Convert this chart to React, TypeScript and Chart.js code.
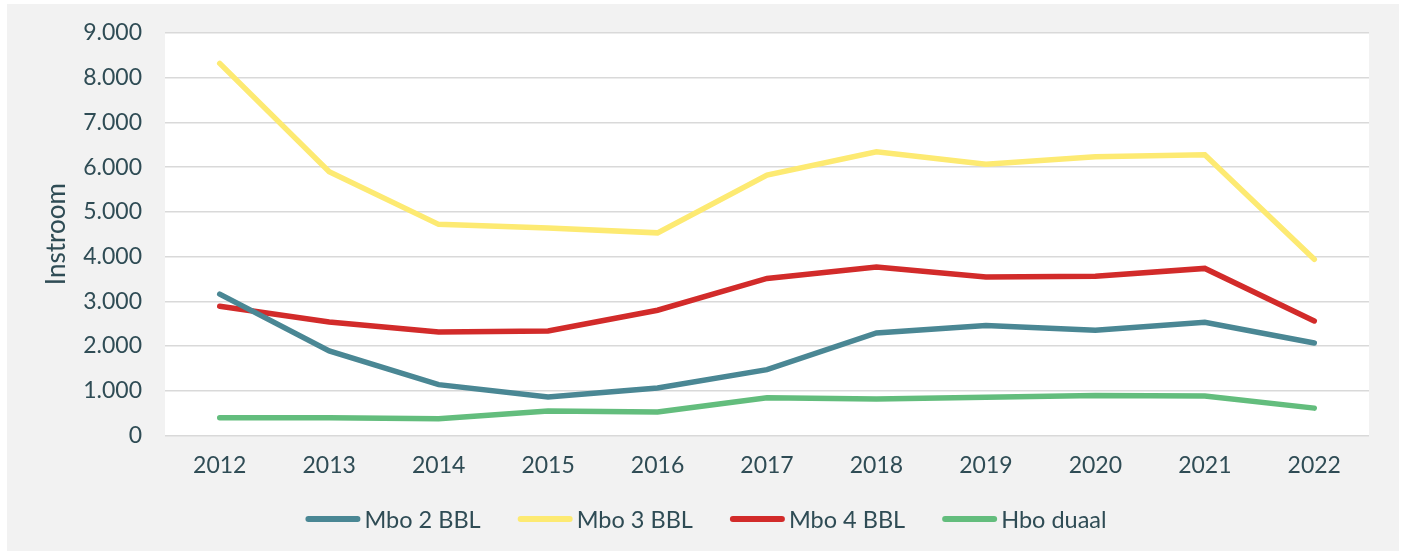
import React, { useEffect, useRef } from "react";
import { Chart, registerables } from "chart.js";

Chart.register(...registerables);

const categories = ["2012", "2013", "2014", "2015", "2016", "2017", "2018", "2019", "2020", "2021", "2022"];
const seriesNames = ["Mbo 2 BBL", "Mbo 3 BBL", "Mbo 4 BBL", "Hbo duaal"];
const mbo2 = [3160, 1890, 1135, 860, 1060, 1470, 2290, 2460, 2350, 2530, 2065];
const mbo3 = [8320, 5895, 4720, 4640, 4530, 5820, 6345, 6065, 6230, 6275, 3940];
const mbo4 = [2890, 2535, 2315, 2335, 2800, 3510, 3765, 3545, 3560, 3735, 2560];
const hbo = [395, 395, 375, 545, 525, 840, 815, 855, 895, 880, 610];
const colors = ["#4a8794", "#fdea72", "#d22b2a", "#63bd7d"];
const yTicks = [0, 1000, 2000, 3000, 4000, 5000, 6000, 7000, 8000, 9000];
const yTitle = "Instroom";

const TEXT = "#2f4c55";
const FONT = "Lato, 'Open Sans', sans-serif";

const fmt = (v: number) => String(v).replace(/\B(?=(\d{3})+(?!\d))/g, ".");

export default function App() {
  const ref = useRef<HTMLCanvasElement | null>(null);
  useEffect(() => {
    if (!ref.current) return;
    const values = [mbo2, mbo3, mbo4, hbo];
    const bgPlugin = {
      id: "bg",
      beforeDraw(chart: any) {
        const { ctx, chartArea } = chart;
        ctx.save();
        ctx.fillStyle = "#f2f2f2";
        ctx.fillRect(7, 4, 1392, 547);
        ctx.fillStyle = "#ffffff";
        ctx.fillRect(chartArea.left, chartArea.top, chartArea.right - chartArea.left, chartArea.bottom - chartArea.top);
        ctx.restore();
      },
    };
    const legendPlugin = {
      id: "customLegend",
      afterDraw(chart: any) {
        const { ctx } = chart;
        ctx.save();
        ctx.font = `23.5px ${FONT}`;
        const markerW = 55;
        const gap = 4;
        const spacing = 37;
        const items = chart.data.datasets.map((d: any) => ({
          label: d.label,
          color: d.borderColor,
          w: markerW + gap + ctx.measureText(d.label).width,
        }));
        const total = items.reduce((s: number, it: any) => s + it.w, 0) + spacing * (items.length - 1);
        let x = 706 - total / 2;
        const y = 519;
        ctx.textBaseline = "middle";
        ctx.textAlign = "left";
        for (const it of items) {
          ctx.strokeStyle = it.color;
          ctx.lineWidth = 6;
          ctx.lineCap = "round";
          ctx.beginPath();
          ctx.moveTo(x + 3, y);
          ctx.lineTo(x + markerW - 3, y);
          ctx.stroke();
          ctx.fillStyle = TEXT;
          ctx.fillText(it.label, x + markerW + gap, y + 1);
          x += it.w + spacing;
        }
        ctx.restore();
      },
    };
    const chart = new Chart(ref.current, {
      type: "line",
      data: {
        labels: categories,
        datasets: seriesNames.map((name, i) => ({
          label: name,
          data: values[i],
          borderColor: colors[i],
          backgroundColor: colors[i],
          borderWidth: 5.5,
          pointRadius: 0,
          tension: 0,
          borderCapStyle: "round" as const,
          borderJoinStyle: "miter" as const,
        })),
      },
      options: {
        responsive: false,
        animation: false,
        devicePixelRatio: 1,
        layout: { padding: { left: 8, right: 33, top: 33, bottom: 58 } },
        plugins: {
          legend: { display: false },
          tooltip: { enabled: false },
        },
        scales: {
          x: {
            offset: true,
            grid: { display: false, drawTicks: false },
            border: { display: false },
            ticks: { color: TEXT, font: { family: FONT, size: 23 }, padding: 16, maxRotation: 0 },
          },
          y: {
            min: 0,
            max: 9000,
            afterBuildTicks: (scale: any) => {
              scale.ticks = yTicks.map((v) => ({ value: v }));
            },
            afterFit: (scale: any) => {
              scale.width = 157;
              scale.paddingTop = 0;
              scale.paddingBottom = 0;
            },
            grid: { color: "#d9d9d9", lineWidth: 1.5, drawTicks: false },
            border: { display: false },
            ticks: {
              color: TEXT,
              font: { family: FONT, size: 23 },
              padding: 23,
              callback: (v: any) => fmt(Number(v)),
            },
            title: {
              display: true,
              text: yTitle,
              color: TEXT,
              font: { family: FONT, size: 26 },
              padding: { top: 33, bottom: 0 },
            },
          },
        },
      },
      plugins: [bgPlugin, legendPlugin],
    });
    return () => chart.destroy();
  }, []);
  return (
    <div style={{ position: "absolute", left: 0, top: 0, width: 1402, height: 553 }}>
      <canvas ref={ref} width={1402} height={553} style={{ display: "block", width: 1402, height: 553 }} />
    </div>
  );
}
